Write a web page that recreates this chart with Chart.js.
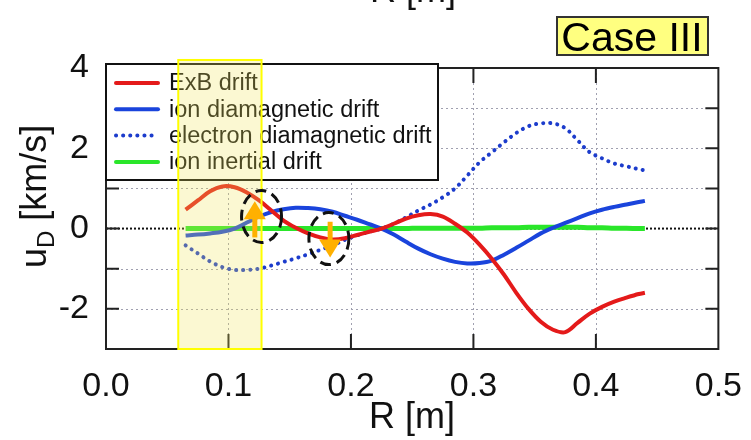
<!DOCTYPE html>
<html>
<head>
<meta charset="utf-8">
<script src="https://cdn.jsdelivr.net/npm/chart.js@4"></script>
<style>
  html, body { margin: 0; padding: 0; background: #fff; }
  #wrap { position: relative; width: 751px; height: 440px; }
</style>
</head>
<body>
<div id="wrap"><canvas id="drift" width="751" height="440"></canvas></div>
<script>
// radial positions [m]
const R = [0.065, 0.075, 0.085, 0.095, 0.105, 0.115, 0.125, 0.135, 0.145, 0.155,
  0.165, 0.175, 0.185, 0.195, 0.205, 0.215, 0.225, 0.235, 0.245, 0.255,
  0.265, 0.275, 0.285, 0.295, 0.305, 0.315, 0.325, 0.335, 0.345, 0.355,
  0.365, 0.375, 0.385, 0.395, 0.405, 0.415, 0.425, 0.435, 0.44];

// drift velocities [km/s]
const exbDrift = [0.47, 0.70, 0.93, 1.05, 1.03, 0.90, 0.70, 0.45, 0.20, 0.02,
  -0.12, -0.22, -0.27, -0.24, -0.16, -0.08, 0.0, 0.12, 0.25, 0.33,
  0.36, 0.30, 0.12, -0.10, -0.40, -0.75, -1.15, -1.60, -2.00, -2.32,
  -2.52, -2.58, -2.35, -2.12, -1.95, -1.82, -1.72, -1.63, -1.60];
const ionDiaDrift = [-0.17, -0.15, -0.12, -0.08, 0.0, 0.15, 0.30, 0.41, 0.48, 0.52,
  0.51, 0.48, 0.42, 0.32, 0.22, 0.11, 0.0, -0.15, -0.33, -0.50,
  -0.64, -0.75, -0.83, -0.87, -0.86, -0.80, -0.65, -0.48, -0.30, -0.12,
  0.02, 0.14, 0.26, 0.38, 0.47, 0.54, 0.60, 0.66, 0.69];
const electronDiaDrift = [-0.42, -0.62, -0.82, -0.96, -1.03, -1.03, -1.00, -0.92, -0.83, -0.74,
  -0.64, -0.53, -0.42, -0.28, -0.17, -0.08, 0.0, 0.12, 0.28, 0.45,
  0.60, 0.78, 1.00, 1.32, 1.65, 1.90, 2.15, 2.38, 2.55, 2.62,
  2.62, 2.50, 2.20, 1.90, 1.75, 1.62, 1.55, 1.48, 1.45];
const ionInertialDrift = [0.0, 0.0, 0.0, 0.0, 0.0, 0.0, 0.0, 0.0, 0.0, 0.0,
  0.0, 0.0, 0.0, 0.0, 0.0, 0.0, 0.0, 0.0, 0.0, 0.01,
  0.01, 0.01, 0.01, 0.01, 0.01, 0.02, 0.02, 0.02, 0.03, 0.03,
  0.03, 0.03, 0.03, 0.02, 0.02, 0.01, 0.01, 0.0, 0.0];

const seriesLabels = ["ExB drift", "ion diamagnetic drift", "electron diamagnetic drift", "ion inertial drift"];
const xTicks = [0.0, 0.1, 0.2, 0.3, 0.4, 0.5];
const yTicks = [-2, 0, 2, 4];

const FONT = "'Liberation Sans', Arial, sans-serif";

function pts(ys) {
  return R.map((r, i) => ({ x: r, y: ys[i] }));
}

// gridlines and the dotted zero line, under the curves
const gridPlugin = {
  id: "grid",
  beforeDatasetsDraw(chart) {
    const { ctx, chartArea: a, scales: { x, y } } = chart;
    ctx.save();
    ctx.strokeStyle = "#a0a0b0";
    ctx.lineWidth = 1;
    ctx.setLineDash([2, 3]);
    for (let v = 0.1; v < 0.45; v += 0.1) {
      const px = Math.round(x.getPixelForValue(v)) + 0.5;
      ctx.beginPath(); ctx.moveTo(px, a.top); ctx.lineTo(px, a.bottom); ctx.stroke();
    }
    for (let v = -2; v <= 3; v++) {
      if (v === 0) continue;
      const py = Math.round(y.getPixelForValue(v)) + 0.5;
      ctx.beginPath(); ctx.moveTo(a.left, py); ctx.lineTo(a.right, py); ctx.stroke();
    }
    ctx.strokeStyle = "#111";
    ctx.lineWidth = 2;
    ctx.setLineDash([2, 2]);
    const y0 = y.getPixelForValue(0);
    ctx.beginPath(); ctx.moveTo(a.left, y0); ctx.lineTo(a.right, y0); ctx.stroke();
    ctx.restore();
  }
};

// frame, inward ticks, legend, axis titles and the overlays
const decorPlugin = {
  id: "decor",
  afterDatasetsDraw(chart) {
    const { ctx, chartArea: a, scales: { x, y } } = chart;
    ctx.save();

    // frame with inward ticks
    ctx.strokeStyle = "#222";
    ctx.lineWidth = 2;
    ctx.setLineDash([]);
    ctx.strokeRect(a.left, a.top, a.right - a.left, a.bottom - a.top);
    for (let v = 0.1; v < 0.45; v += 0.1) {
      const px = x.getPixelForValue(v);
      ctx.beginPath();
      ctx.moveTo(px, a.bottom); ctx.lineTo(px, a.bottom - 15);
      ctx.moveTo(px, a.top); ctx.lineTo(px, a.top + 15);
      ctx.stroke();
    }
    for (let v = -2; v <= 3; v++) {
      const py = y.getPixelForValue(v);
      ctx.beginPath();
      ctx.moveTo(a.left, py); ctx.lineTo(a.left + 13, py);
      ctx.moveTo(a.right, py); ctx.lineTo(a.right - 13, py);
      ctx.stroke();
    }

    // legend
    const lx = 106, ly = 64, lw = 332, lh = 116;
    ctx.fillStyle = "#fff";
    ctx.fillRect(lx, ly, lw, lh);
    ctx.strokeStyle = "#111";
    ctx.lineWidth = 2;
    ctx.strokeRect(lx, ly, lw, lh);
    ctx.font = "23.5px " + FONT;
    ctx.textBaseline = "middle";
    chart.data.datasets.forEach((ds, i) => {
      const cy = 83 + i * 26.3;
      ctx.strokeStyle = ds.borderColor;
      ctx.lineWidth = 4;
      ctx.lineCap = "round";
      ctx.setLineDash(ds.borderDash || []);
      ctx.beginPath(); ctx.moveTo(116, cy); ctx.lineTo(158, cy); ctx.stroke();
      ctx.setLineDash([]);
      ctx.lineCap = "butt";
      ctx.fillStyle = "#111";
      ctx.fillText(ds.label, 169, cy + 1);
    });

    // shaded band 0.059 - 0.127 m
    const bx0 = x.getPixelForValue(0.059), bx1 = x.getPixelForValue(0.127);
    const by0 = y.getPixelForValue(4.2), by1 = y.getPixelForValue(-3);
    ctx.fillStyle = "rgba(240, 228, 90, 0.27)";
    ctx.fillRect(bx0, by0, bx1 - bx0, by1 - by0);
    ctx.strokeStyle = "#ffff00";
    ctx.lineWidth = 2;
    ctx.strokeRect(bx0, by0, bx1 - bx0, by1 - by0);

    // dashed circles with direction arrows
    const marks = [
      { cx: 0.127, cy: 0.3, from: -0.22, to: 0.68, ax: 0.1215 },
      { cx: 0.182, cy: -0.25, from: 0.17, to: -0.72, ax: 0.183 }
    ];
    marks.forEach(m => {
      const ex = x.getPixelForValue(m.cx), ey = y.getPixelForValue(m.cy);
      ctx.strokeStyle = "#111";
      ctx.lineWidth = 3;
      ctx.setLineDash([11, 6]);
      ctx.beginPath(); ctx.ellipse(ex, ey, 20, 26, 0, 0, Math.PI * 2); ctx.stroke();
      ctx.setLineDash([]);
      const px = x.getPixelForValue(m.ax);
      const p0 = y.getPixelForValue(m.from), p1 = y.getPixelForValue(m.to);
      const dir = p1 < p0 ? 1 : -1;
      ctx.strokeStyle = "#ffb000";
      ctx.fillStyle = "#ffb000";
      ctx.lineWidth = 5;
      ctx.beginPath(); ctx.moveTo(px, p0); ctx.lineTo(px, p1 + dir * 14); ctx.stroke();
      ctx.beginPath();
      ctx.moveTo(px, p1);
      ctx.lineTo(px - 11, p1 + dir * 18);
      ctx.lineTo(px + 11, p1 + dir * 18);
      ctx.closePath(); ctx.fill();
    });

    // axis titles
    ctx.fillStyle = "#111";
    ctx.textBaseline = "alphabetic";
    ctx.textAlign = "center";
    ctx.font = "36px " + FONT;
    ctx.fillText("R [m]", 412, 428);
    ctx.fillText("R [m]", 413, 2);

    ctx.save();
    ctx.translate(46, 268);
    ctx.rotate(-Math.PI / 2);
    ctx.textAlign = "left";
    ctx.font = "36px " + FONT;
    ctx.fillText("u", 0, 0);
    let off = ctx.measureText("u").width;
    ctx.font = "24px " + FONT;
    ctx.fillText("D", off, 8);
    off += ctx.measureText("D").width;
    ctx.font = "36px " + FONT;
    ctx.fillText(" [km/s]", off, 0);
    ctx.restore();

    // case tag
    ctx.fillStyle = "#ffff80";
    ctx.fillRect(557, 17, 151, 38);
    ctx.strokeStyle = "#333";
    ctx.lineWidth = 2;
    ctx.strokeRect(557, 17, 151, 38);
    ctx.fillStyle = "#000";
    ctx.font = "41px " + FONT;
    ctx.textAlign = "center";
    ctx.fillText("Case III", 632, 51);

    ctx.restore();
  }
};

new Chart(document.getElementById("drift"), {
  type: "line",
  data: {
    datasets: [
      { label: seriesLabels[0], data: pts(exbDrift), borderColor: "#e41a1a", borderWidth: 4 },
      { label: seriesLabels[1], data: pts(ionDiaDrift), borderColor: "#1a44dc", borderWidth: 4 },
      { label: seriesLabels[2], data: pts(electronDiaDrift), borderColor: "#1c3ccc", borderWidth: 4,
        borderDash: [0.1, 7], borderCapStyle: "round" },
      { label: seriesLabels[3], data: pts(ionInertialDrift), borderColor: "#2ae62a", borderWidth: 5 }
    ]
  },
  options: {
    responsive: false,
    animation: false,
    devicePixelRatio: 1,
    layout: { padding: { top: 68, right: 28, left: 0, bottom: 0 } },
    elements: { point: { radius: 0 }, line: { tension: 0.35 } },
    plugins: { legend: { display: false }, tooltip: { enabled: false } },
    scales: {
      x: {
        type: "linear", min: 0, max: 0.5,
        grid: { display: false }, border: { display: false },
        afterBuildTicks: s => { s.ticks = xTicks.map(v => ({ value: v })); },
        afterFit: s => { s.height = 91; },
        ticks: {
          font: { family: FONT, size: 34 }, color: "#111", padding: 9,
          autoSkip: false, maxRotation: 0,
          callback: v => v.toFixed(1)
        }
      },
      y: {
        type: "linear", min: -3, max: 4,
        grid: { display: false }, border: { display: false },
        afterBuildTicks: s => { s.ticks = yTicks.map(v => ({ value: v })); },
        afterFit: s => { s.width = 106; },
        ticks: {
          font: { family: FONT, size: 34 }, color: "#111", padding: 9,
          autoSkip: false,
          callback: v => String(v)
        }
      }
    }
  },
  plugins: [gridPlugin, decorPlugin]
});
</script>
</body>
</html>
